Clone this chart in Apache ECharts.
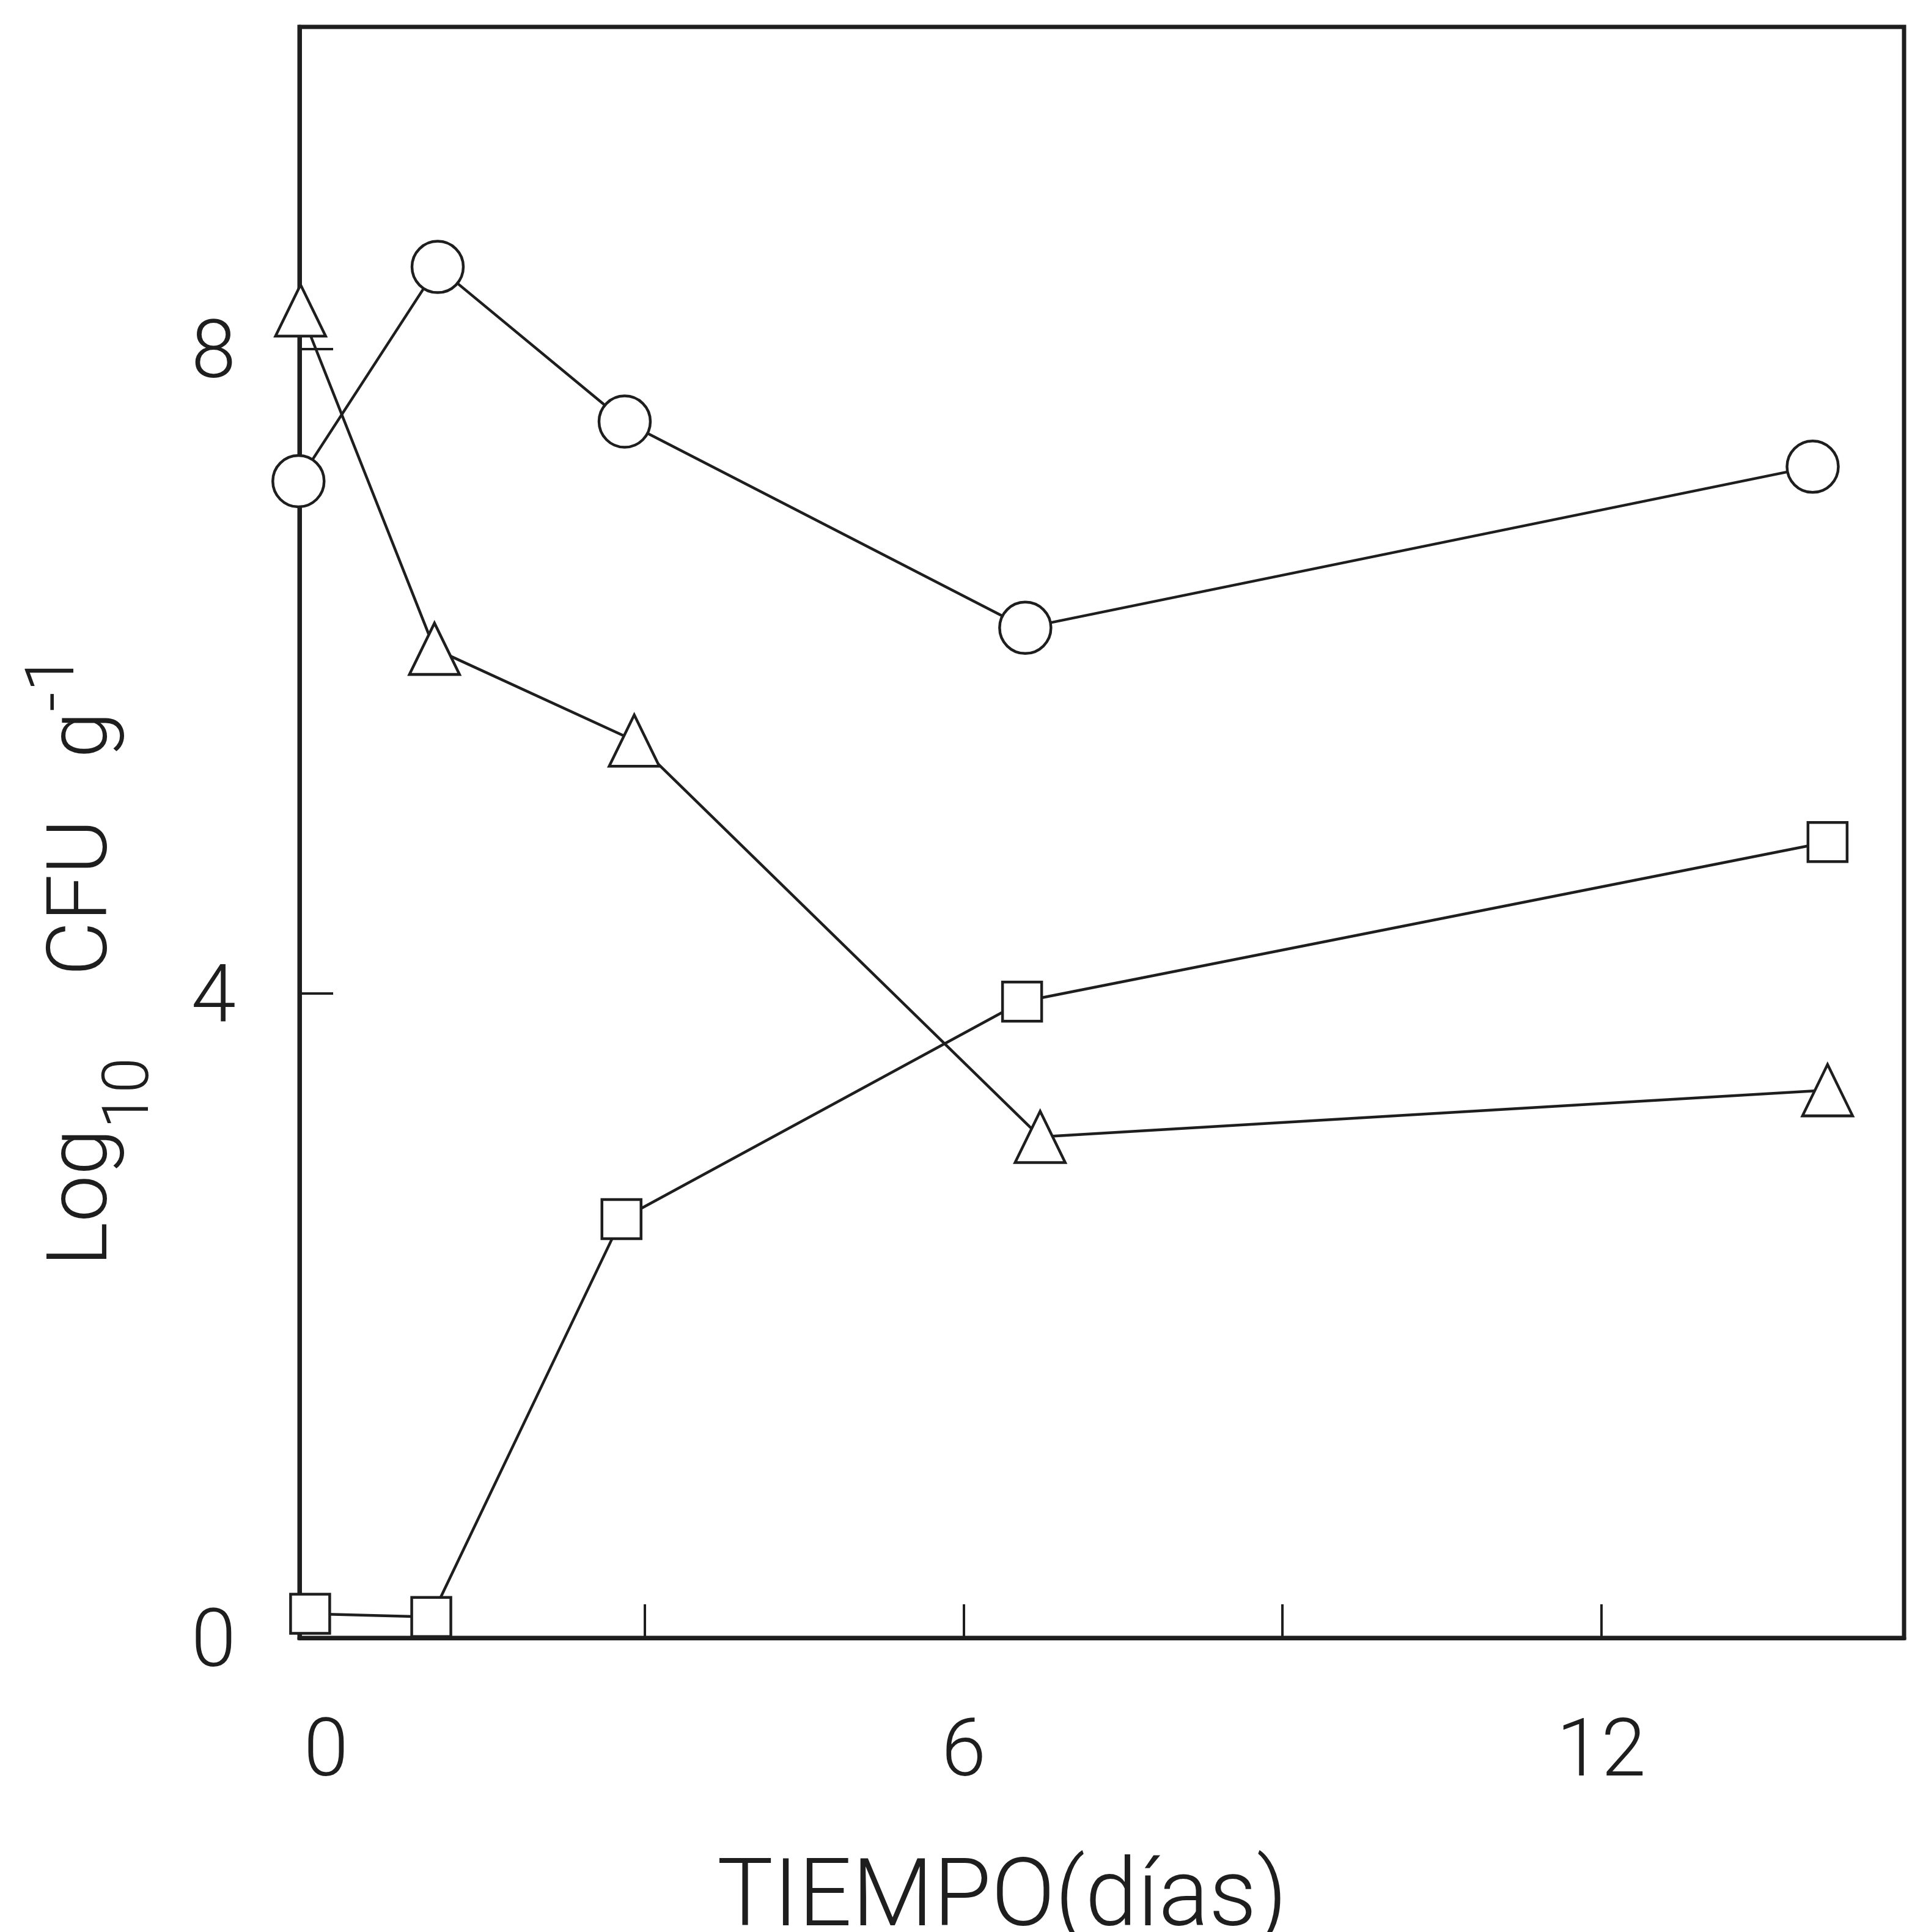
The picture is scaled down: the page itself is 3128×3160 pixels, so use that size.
<!DOCTYPE html>
<html>
<head>
<meta charset="utf-8">
<script src="https://cdn.jsdelivr.net/npm/echarts@6/dist/echarts.min.js"></script>
<style>
  html, body { margin: 0; padding: 0; background: #fff; }
  #chart { width: 3128px; height: 3160px; }
</style>
</head>
<body>
<div id="chart"></div>
<script>
// valores (dia, log10 CFU/g)
var circleDays = [-0.26, 1.05, 2.81, 6.58, 13.99];
var circleLog = [7.18, 8.51, 7.55, 6.27, 7.27];

var triangleDays = [-0.24, 1.02, 2.9, 6.72, 14.13];
var triangleLog = [8.24, 6.14, 5.57, 3.11, 3.40];

var squareDays = [-0.15, 0.99, 2.78, 6.55, 14.13];
var squareLog = [0.15, 0.13, 2.60, 3.95, 4.94];

var xTicks = [3, 6, 9, 12];
var xLabels = [0, 6, 12];
var yTicks = [4, 8];
var yLabels = [0, 4, 8];

var ink = '#1e1e1e';
var font = 'Roboto, "DejaVu Sans", sans-serif';

function pairs(days, vals) {
  return days.map(function (d, i) {
    return [d, vals[i]];
  });
}

function makeSeries(days, vals, symbol, size) {
  return {
    type: 'line',
    data: pairs(days, vals),
    symbol: symbol,
    symbolSize: size,
    showAllSymbol: true,
    clip: false,
    lineStyle: { color: ink, width: 4.5 },
    itemStyle: { color: '#fff', borderColor: ink, borderWidth: 4.5 },
    emphasis: { disabled: true },
    silent: true
  };
}

var chart = echarts.init(document.getElementById('chart'));

chart.setOption({
  animation: false,
  backgroundColor: '#fff',
  grid: {
    left: 490,
    right: 13,
    top: 44,
    bottom: 481,
    containLabel: false,
    outerBoundsMode: 'none',
    show: true,
    borderColor: ink,
    borderWidth: 7
  },
  xAxis: {
    type: 'value',
    min: -0.25,
    max: 14.85,
    axisLine: { show: true, onZero: false, lineStyle: { color: ink, width: 7 } },
    axisTick: {
      show: true,
      inside: true,
      length: 55,
      customValues: xTicks,
      lineStyle: { color: ink, width: 4 }
    },
    axisLabel: {
      customValues: xLabels,
      margin: 126,
      color: ink,
      fontSize: 132,
      fontWeight: 300,
      fontFamily: font
    },
    splitLine: { show: false },
    name: 'TIEMPO(días)',
    nameLocation: 'middle',
    nameGap: 354,
    nameTextStyle: {
      color: ink,
      fontSize: 154,
      fontWeight: 300,
      fontFamily: font,
      padding: [0, 326, 0, 0]
    }
  },
  yAxis: {
    type: 'value',
    min: 0,
    max: 10,
    axisLine: { show: true, onZero: false, lineStyle: { color: ink, width: 7 } },
    axisTick: {
      show: true,
      inside: true,
      length: 55,
      customValues: yTicks,
      lineStyle: { color: ink, width: 4 }
    },
    axisLabel: {
      customValues: yLabels,
      margin: 104,
      verticalAlign: 'top',
      lineHeight: 26,
      color: ink,
      fontSize: 132,
      fontWeight: 300,
      fontFamily: font
    },
    splitLine: { show: false },
    name: '{m|Log}{s|10}{m|    CFU   g}{p|-1}',
    nameLocation: 'middle',
    nameRotate: 90,
    nameGap: 200,
    nameTextStyle: {
      color: ink,
      fontFamily: font,
      fontWeight: 300,
      padding: [0, 418, 0, 0],
      rich: {
        m: { fontSize: 137, lineHeight: 300, verticalAlign: 'middle', fontWeight: 300, fontFamily: font, color: ink },
        s: { fontSize: 105, lineHeight: 105, verticalAlign: 'bottom', padding: [0, 0, 22, 0], fontWeight: 300, fontFamily: font, color: ink },
        p: { fontSize: 112, lineHeight: 112, verticalAlign: 'top', padding: [46, 0, 0, 0], fontWeight: 300, fontFamily: font, color: ink }
      }
    }
  },
  series: [
    makeSeries(circleDays, circleLog, 'circle', 84),
    makeSeries(triangleDays, triangleLog, 'triangle', [82, 84]),
    makeSeries(squareDays, squareLog, 'rect', 64)
  ]
});
</script>
</body>
</html>
